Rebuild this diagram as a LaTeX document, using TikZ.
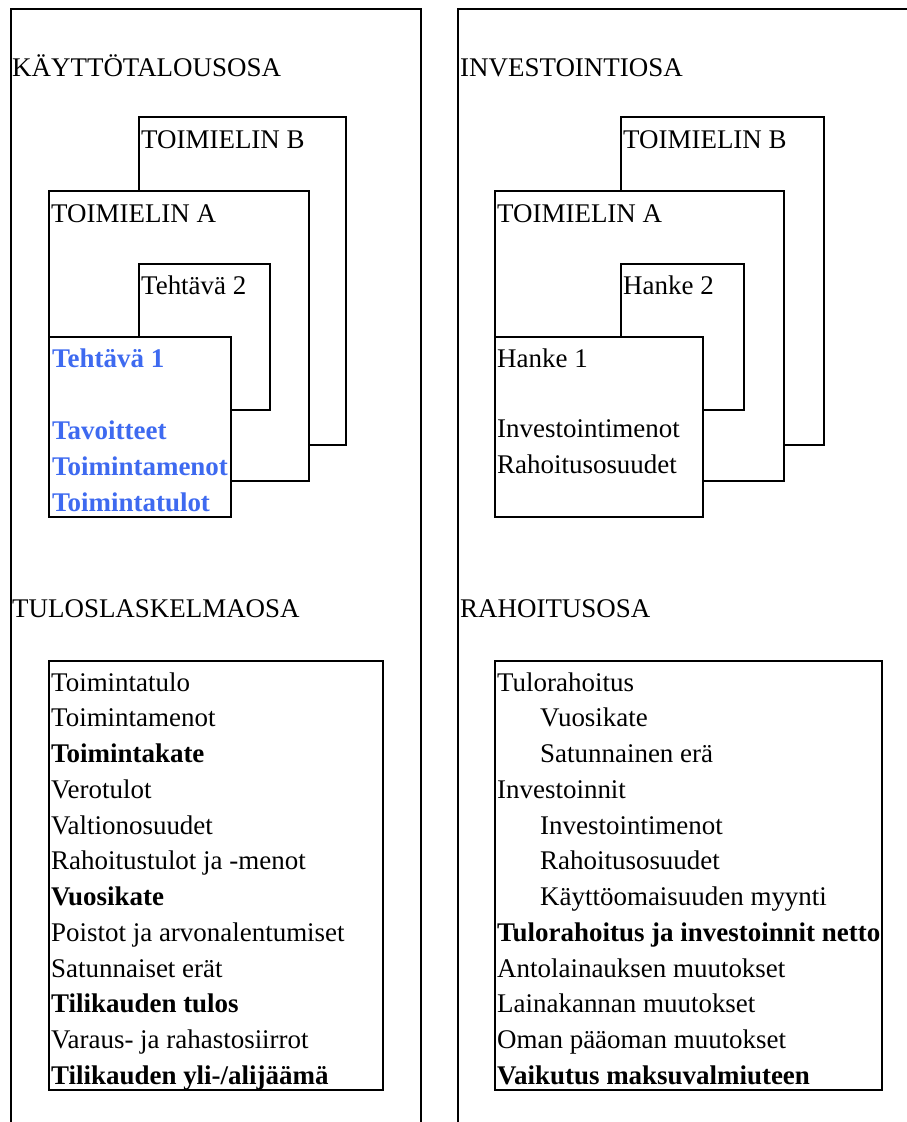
\documentclass[tikz,border=0pt]{standalone}
\usepackage{fontspec}
\setmainfont{Liberation Serif}
\definecolor{tblue}{RGB}{62,106,240}
\begin{document}
\begin{tikzpicture}[x=1pt,y=-1pt,
 frame/.style={draw=black,line width=2pt},
 box/.style={draw=black,fill=white,line width=2pt},
 txt/.style={anchor=base west,inner sep=0pt,yshift=-1.2pt,font=\fontsize{26.95}{32}\selectfont},
 btxt/.style={anchor=base west,inner sep=0pt,yshift=-1.2pt,font=\fontsize{26.95}{32}\selectfont\bfseries},
 bluetxt/.style={btxt,text=tblue}]
\useasboundingbox (0,0) rectangle (907,1122);
% outer frames
\draw[frame] (11,1123) -- (11,9) -- (421,9) -- (421,1123);
\draw[frame] (458,1123) -- (458,9) -- (908,9);
% left panel headings
\node[txt] (hk) at (12,75) {KÄYTTÖTALOUSOSA};
\node[txt] (ht) at (12,616.7) {TULOSLASKELMAOSA};
% left nested boxes
\draw[box] (139,117) rectangle (346,445);
\node[txt] (lb) at (141,147.3) {TOIMIELIN B};
\draw[box] (49,191) rectangle (309,481);
\node[txt] (la) at (51,221.7) {TOIMIELIN A};
\draw[box] (139,264) rectangle (270,410);
\node[txt] (lt2) at (141,293.3) {Tehtävä 2};
\draw[box] (49,337) rectangle (231,517);
\node[bluetxt] (lt1) at (52,366.7) {Tehtävä 1};
\node[bluetxt] (lt1a) at (52,438.3) {Tavoitteet};
\node[bluetxt] (lt1b) at (52,474) {Toimintamenot};
\node[bluetxt] (lt1c) at (52,510) {Toimintatulot};
% right panel headings
\node[txt] (hi) at (460,75) {INVESTOINTIOSA};
\node[txt] (hr) at (460,616.7) {RAHOITUSOSA};
% right nested boxes
\draw[box] (621,117) rectangle (824,445);
\node[txt] (rb) at (623,147.3) {TOIMIELIN B};
\draw[box] (495,191) rectangle (784,481);
\node[txt] (ra) at (497,221.7) {TOIMIELIN A};
\draw[box] (621,264) rectangle (744,410);
\node[txt] (rh2) at (623,293.3) {Hanke 2};
\draw[box] (495,337) rectangle (703,517);
\node[txt] (rh1) at (497,366.7) {Hanke 1};
\node[txt] (rh1a) at (497,436.7) {Investointimenot};
\node[txt] (rh1b) at (497,472.7) {Rahoitusosuudet};
% bottom left box
\draw[box] (49,661) rectangle (383,1090);
\node[txt]  (l1)  at (51,690.00) {Toimintatulo};
\node[txt]  (l2)  at (51,725.75) {Toimintamenot};
\node[btxt] (l3)  at (51,761.50) {Toimintakate};
\node[txt]  (l4)  at (51,797.25) {Verotulot};
\node[txt]  (l5)  at (51,833.00) {Valtionosuudet};
\node[txt]  (l6)  at (51,868.75) {Rahoitustulot ja -menot};
\node[btxt] (l7)  at (51,904.50) {Vuosikate};
\node[txt]  (l8)  at (51,940.25) {Poistot ja arvonalentumiset};
\node[txt]  (l9)  at (51,976.00) {Satunnaiset erät};
\node[btxt] (l10) at (51,1011.75) {Tilikauden tulos};
\node[txt]  (l11) at (51,1047.50) {Varaus- ja rahastosiirrot};
\node[btxt] (l12) at (51,1083.25) {Tilikauden yli-/alijäämä};
% bottom right box
\draw[box] (495,661) rectangle (882,1090);
\node[txt]  (r1)  at (497,690.00) {Tulorahoitus};
\node[txt]  (r2)  at (540,725.75) {Vuosikate};
\node[txt]  (r3)  at (540,761.50) {Satunnainen erä};
\node[txt]  (r4)  at (497,797.25) {Investoinnit};
\node[txt]  (r5)  at (540,833.00) {Investointimenot};
\node[txt]  (r6)  at (540,868.75) {Rahoitusosuudet};
\node[txt]  (r7)  at (540,904.50) {Käyttöomaisuuden myynti};
\node[btxt] (r8)  at (497,940.25) {Tulorahoitus ja investoinnit netto};
\node[txt]  (r9)  at (497,976.00) {Antolainauksen muutokset};
\node[txt]  (r10) at (497,1011.75) {Lainakannan muutokset};
\node[txt]  (r11) at (497,1047.50) {Oman pääoman muutokset};
\node[btxt] (r12) at (497,1083.25) {Vaikutus maksuvalmiuteen};
\end{tikzpicture}
\end{document}
